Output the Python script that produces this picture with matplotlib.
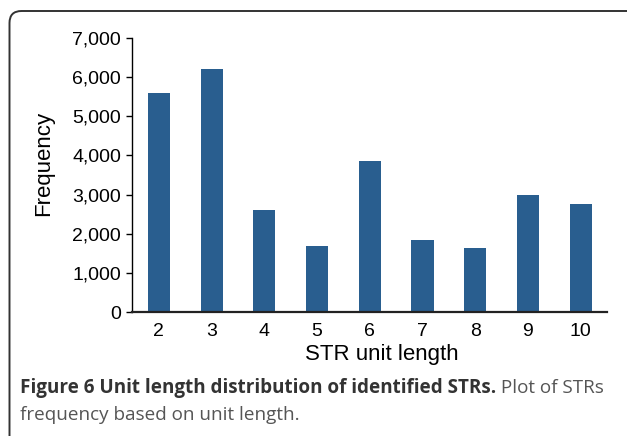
import matplotlib
matplotlib.use("Agg")
import matplotlib.pyplot as plt
from matplotlib.patches import FancyBboxPatch
from matplotlib.transforms import IdentityTransform

# STR unit length vs. frequency
unit_lengths = [2, 3, 4, 5, 6, 7, 8, 9, 10]
frequencies = [5590, 6200, 2600, 1690, 3860, 1840, 1635, 2990, 2760]
y_ticks = [0, 1000, 2000, 3000, 4000, 5000, 6000, 7000]

caption_bold = "Figure 6 Unit length distribution of identified STRs."
caption_rest = " Plot of STRs"
caption_line2 = "frequency based on unit length."

plt.rcParams['font.family'] = ['Liberation Sans', 'DejaVu Sans']

fig = plt.figure(figsize=(6.27, 4.36), dpi=100)
ax = fig.add_axes([132 / 627, 1 - 312 / 436, 475 / 627, 274 / 436])

ax.bar(unit_lengths, frequencies, width=0.42, color='#295e8f')
ax.set_xlim(1.49, 10.5)
ax.set_ylim(0, 7000)
ax.set_yticks(y_ticks)
ax.set_yticklabels([f"{v:,}" for v in y_ticks])
ax.set_xticks(unit_lengths)

# Spines: only left and bottom
ax.spines['top'].set_visible(False)
ax.spines['right'].set_visible(False)
ax.spines['left'].set_linewidth(1.0)
ax.spines['bottom'].set_linewidth(1.6)
ax.spines['bottom'].set_color('#222222')
ax.tick_params(axis='y', length=4, width=1.0, pad=4, labelsize=14)
ax.tick_params(axis='x', length=0, pad=8, labelsize=14)

ax.set_ylabel("Frequency", fontsize=16)
ax.yaxis.set_label_coords(-0.165, 0.544)
ax.set_xlabel("STR unit length", fontsize=16)
ax.xaxis.set_label_coords(0.526, -0.118)

# Caption below the chart
cap_font = ['Open Sans', 'DejaVu Sans']
cap_size = 13.6
t1 = fig.text(20 / 627, 1 - 393 / 436, caption_bold, fontsize=cap_size,
              fontweight='bold', color='#333333', family=cap_font)
fig.canvas.draw()
bb = t1.get_window_extent()
fig.text(bb.x1 / 627, 1 - 393 / 436, caption_rest, fontsize=cap_size,
         color='#555555', family=cap_font)
fig.text(20 / 627, 1 - 420 / 436, caption_line2, fontsize=cap_size,
         color='#555555', family=cap_font)

# Rounded frame around the figure (open at right and bottom)
frame = FancyBboxPatch((9.5, -30), 660, 436 - 11 + 30,
                       boxstyle="round,pad=0,rounding_size=12",
                       transform=IdentityTransform(), fill=False,
                       edgecolor='#333333', linewidth=1.4)
fig.patches.append(frame)

fig.savefig("out.png", dpi=100)
